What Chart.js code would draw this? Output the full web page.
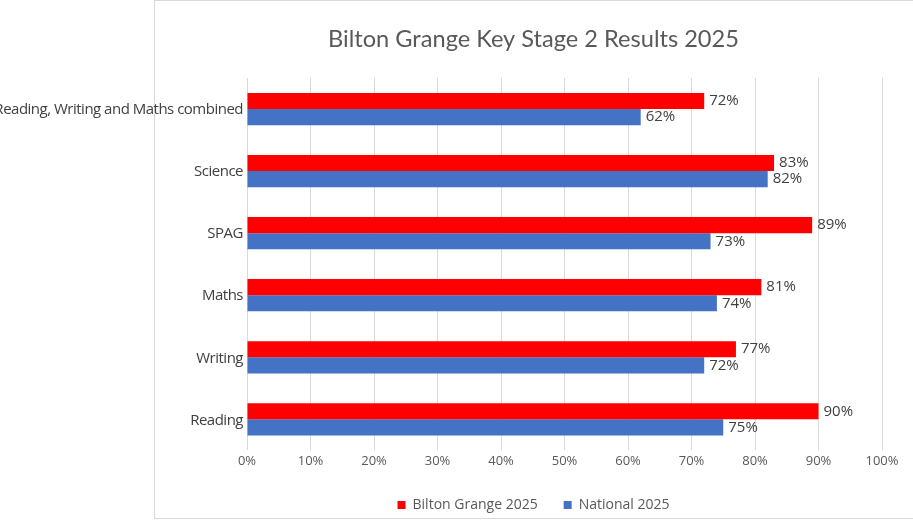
<!DOCTYPE html>
<html><head><meta charset="utf-8">
<script src="https://cdn.jsdelivr.net/npm/chart.js@4/dist/chart.umd.min.js"></script>
<style>
html,body{margin:0;padding:0;background:#fff;}
#wrap{position:relative;width:913px;height:532px;}
#box{position:absolute;left:154px;top:0;width:770px;height:519px;border:1px solid #d9d9d9;box-sizing:border-box;}
canvas{position:absolute;left:0;top:0;}
</style></head>
<body><div id="wrap"><div id="box"></div><canvas id="c" width="913" height="532"></canvas></div>
<script>
const categories = ["Reading, Writing and Maths combined","Science","SPAG","Maths","Writing","Reading"];
const bilton = [72,83,89,81,77,90];
const national = [62,82,73,74,72,75];
const seriesNames = ["Bilton Grange 2025","National 2025"];
const titleText = "Bilton Grange Key Stage 2 Results 2025";
const FONT = "'Open Sans', sans-serif";
const TFONT = "Lato, sans-serif";

const customText = {
  id:'customText',
  afterDraw(chart){
    const ctx = chart.ctx;
    ctx.save();
    // title
    ctx.font = "23.6px " + TFONT;
    ctx.fillStyle = "#595959";
    ctx.textAlign = "center";
    ctx.textBaseline = "middle";
    ctx.fillText(titleText, (154 + chart.width) / 2, 39);
    // category labels
    const y = chart.scales.y;
    ctx.font = "15px " + FONT;
    ctx.fillStyle = "#404040";
    ctx.textAlign = "right";
    if ('letterSpacing' in ctx) ctx.letterSpacing = "-0.5px";
    chart.data.labels.forEach((lab,i)=>{
      ctx.fillText(lab, chart.chartArea.left - 4, y.getPixelForTick(i) + 1);
    });
    ctx.restore();
  },
  afterDatasetsDraw(chart){
    const ctx = chart.ctx;
    ctx.save();
    ctx.font = "15px " + FONT;
    ctx.fillStyle = "#404040";
    ctx.textBaseline = "middle";
    ctx.textAlign = "left";
    chart.data.datasets.forEach((ds,i)=>{
      chart.getDatasetMeta(i).data.forEach((bar,j)=>{
        ctx.fillText(ds.data[j] + "%", bar.x + 5, bar.y + 0);
      });
    });
    ctx.restore();
  }
};

new Chart(document.getElementById('c'), {
  type:'bar',
  data:{
    labels:categories,
    datasets:[
      {label:seriesNames[0], data:bilton, backgroundColor:'#ff0000', borderWidth:0},
      {label:seriesNames[1], data:national, backgroundColor:'#4472c4', borderWidth:0}
    ]
  },
  options:{
    indexAxis:'y',
    responsive:false,
    animation:false,
    devicePixelRatio:1,
    layout:{padding:{left:154,right:0,top:78,bottom:10}},
    datasets:{bar:{categoryPercentage:0.52,barPercentage:1.0}},
    scales:{
      x:{min:0,max:100,
        ticks:{stepSize:10,callback:v=>v+"%",color:'#595959',font:{family:FONT,size:13},padding:3},
        grid:{color:'#d9d9d9',drawTicks:false},
        border:{display:false}
      },
      y:{
        ticks:{display:false},
        grid:{display:false},
        border:{display:false},
        afterFit(s){s.width=93;}
      },
      y2:{type:'linear',position:'right',display:true,
        ticks:{display:false},grid:{display:false},border:{display:false},
        afterFit(s){s.width=31;}
      }
    },
    plugins:{
      title:{display:false},
      legend:{position:'bottom',labels:{color:'#595959',font:{family:FONT,size:14},boxWidth:8,boxHeight:8,padding:26}},
      tooltip:{enabled:false}
    }
  },
  plugins:[customText]
});
</script></body></html>
